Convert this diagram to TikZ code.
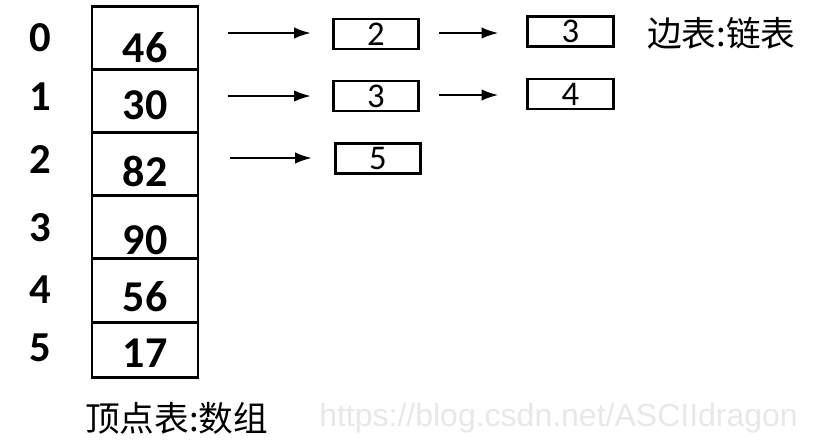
\documentclass[tikz,border=0pt]{standalone}
\usepackage{fontspec}
\setmainfont{Carlito}
\newfontfamily\cjkfont{Noto Sans CJK SC}
\newfontfamily\wmfont{Liberation Sans}
\usetikzlibrary{arrows.meta}
\begin{document}
\begin{tikzpicture}[x=0.75pt,y=-0.75pt,
  cell/.style={draw,line width=2.2pt,minimum width=79.5pt,inner sep=0pt,anchor=north},
  val/.style={font=\fontsize{33}{33}\selectfont\bfseries,inner sep=0pt},
  idx/.style={font=\fontsize{32}{32}\selectfont\bfseries,inner sep=0pt},
  ebox/.style={draw,line width=2.2pt,minimum width=64pt,minimum height=22.5pt,inner sep=0pt,font=\fontsize{26}{26}\selectfont},
  arr/.style={line width=1.6pt,-{Latex[length=12.5pt,width=8.5pt]}},
  cjk/.style={font=\cjkfont\fontsize{26}{26}\selectfont,inner sep=0pt}]
\useasboundingbox (0,0) rectangle (838,447);
% array cells
\node[cell,minimum height=47.25pt] (c0) at (145,5) {};
\node[cell,minimum height=47.25pt] (c1) at (145,68) {};
\node[cell,minimum height=47.25pt] (c2) at (145,131) {};
\node[cell,minimum height=47.25pt] (c3) at (145,194) {};
\node[cell,minimum height=48pt] (c4) at (145,257) {};
\node[cell,minimum height=41.25pt] (c5) at (145,321) {};
% values
\node[val] (v0) at (145,47.5) {46};
\node[val] (v1) at (145,105) {30};
\node[val] (v2) at (145,171) {82};
\node[val] (v3) at (145,240) {90};
\node[val] (v4) at (145,297) {56};
\node[val] (v5) at (145,353) {17};
% indices
\node[idx] (i0) at (40,37.5) {0};
\node[idx] (i1) at (40,97) {1};
\node[idx] (i2) at (40,160) {2};
\node[idx] (i3) at (40,228) {3};
\node[idx] (i4) at (40,290) {4};
\node[idx] (i5) at (40,348) {5};
% edge boxes
\node[ebox] (b00) at (376,34) {2};
\node[ebox] (b01) at (570.5,31.5) {3};
\node[ebox] (b10) at (376,96) {3};
\node[ebox] (b11) at (570.5,94) {4};
\node[ebox] (b20) at (378,158.5) {5};
% arrow starts
\coordinate (s0) at (228,33);
\coordinate (s1) at (228,96);
\coordinate (s2) at (230,158);
\draw[arr,shorten >=15.75pt] (s0) -- (s0 -| b00.west);
\draw[arr,shorten >=15.75pt] (s1) -- (s1 -| b10.west);
\draw[arr,shorten >=16.5pt] (s2) -- (s2 -| b20.west);
\draw[arr,shorten <=14.25pt,shorten >=21pt] (b00.east |- 0,33) -- (b01.west |- 0,33);
\draw[arr,shorten <=14.25pt,shorten >=21pt] (b10.east |- 0,95) -- (b11.west |- 0,95);
% captions
\node[cjk,anchor=west] (t1) at (647,33) {边表:链表};
\node[cjk,anchor=west] (t2) at (85,418) {顶点表:数组};
\node[font=\wmfont\fontsize{24}{24}\selectfont,text=black!9,anchor=west,inner sep=0pt] (wm) at (319,418) {https://blog.csdn.net/ASCIIdragon};
\end{tikzpicture}
\end{document}
